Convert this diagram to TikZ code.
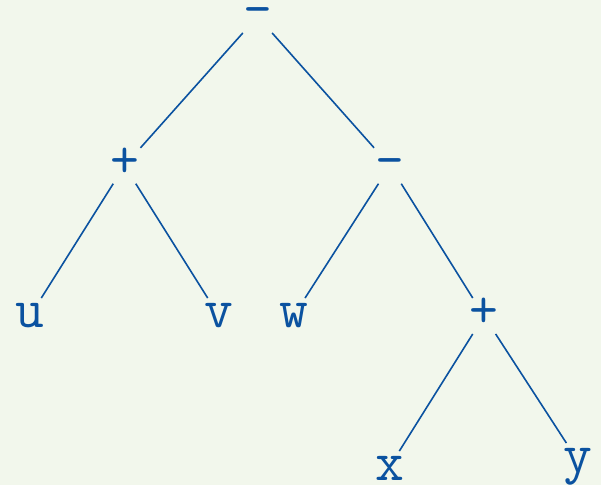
\documentclass[tikz,border=0pt]{standalone}
\definecolor{treeblue}{HTML}{0B52A0}
\definecolor{bgc}{HTML}{F2F7EC}
\begin{document}
\begin{tikzpicture}[x=1pt,y=-1pt,
  lbl/.style={text=treeblue, font=\fontsize{56}{60}\selectfont\ttfamily,
    inner sep=0pt, text height=29pt, text depth=6.5pt, minimum width=36pt},
  edge/.style={draw=treeblue, line width=1.6pt}]
\fill[bgc] (0,0) rectangle (601,485);
\useasboundingbox (0,0) rectangle (601,485);
\node[lbl, text height=26pt] (r) at (257.5,16.5) {-};
\node[lbl] (a) at (124.5,165.75) {+};
\node[lbl] (b) at (390,165.75) {-};
\node[lbl] (u) at (30,316) {u};
\node[lbl] (v) at (219,316) {v};
\node[lbl] (w) at (293.5,316) {w};
\node[lbl] (c) at (484,316) {+};
\node[lbl, text depth=2pt] (x) at (389.5,466.75) {x};
\node[lbl] (y) at (578,461) {y};
\draw[edge] (r) -- (a);
\draw[edge] (r) -- (b);
\draw[edge] (a) -- (u);
\draw[edge] (a) -- (v);
\draw[edge] (b) -- (w);
\draw[edge] (b) -- (c);
\draw[edge] (c) -- (x);
\draw[edge] (c) -- (y);
\end{tikzpicture}
\end{document}
